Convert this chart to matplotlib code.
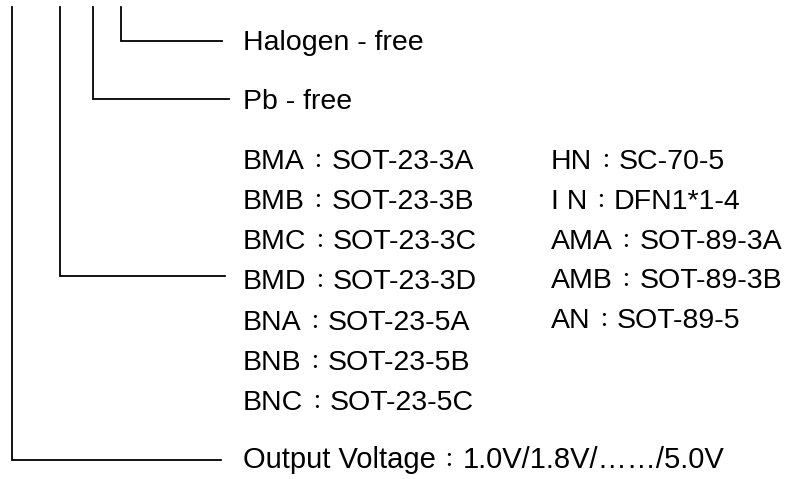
import matplotlib
matplotlib.use("Agg")
import matplotlib.pyplot as plt

plt.rcParams["font.family"] = ["Liberation Sans", "Noto Sans CJK TC", "DejaVu Sans"]

# ordering-code tree: each branch drops from the top and turns right to its text
branch_x = [121, 93, 60, 12]
branch_y = [41, 99, 276, 460]
branch_end = [222, 229, 225, 221]

top_labels = ["Halogen - free", "Pb - free"]
top_y = [50, 109]

package_left = ["BMA：SOT-23-3A", "BMB：SOT-23-3B", "BMC：SOT-23-3C", "BMD：SOT-23-3D",
                "BNA：SOT-23-5A", "BNB：SOT-23-5B", "BNC：SOT-23-5C"]
package_left_y = [169, 209, 249, 289, 330, 370, 410]
package_right = ["HN：SC-70-5", "I N：DFN1*1-4", "AMA：SOT-89-3A", "AMB：SOT-89-3B", "AN：SOT-89-5"]
package_right_y = [169, 209, 249, 288, 328]

voltage_label = "Output Voltage：1.0V/1.8V/……/5.0V"
voltage_y = 468

fs = 20.5

fig = plt.figure(figsize=(7.94, 4.79), dpi=100)
ax = fig.add_axes([0, 0, 1, 1])
ax.set_xlim(0, 794)
ax.set_ylim(479, 0)
ax.axis("off")


def colon_label(x, y, label, size=fs):
    # the full-width colon is set smaller, like in the original document
    head, tail = label.split("：")
    t1 = ax.text(x, y, head, fontsize=size, va="baseline", ha="left")
    t2 = ax.annotate("：", xy=(1, y), xycoords=(t1, "data"), xytext=(2, 0.5),
                     textcoords="offset points", fontsize=15, va="baseline", ha="left",
                     family="Noto Sans CJK TC")
    ax.annotate(tail, xy=(1, y), xycoords=(t2, "data"), xytext=(2, 0),
                textcoords="offset points", fontsize=size, va="baseline", ha="left")


for x, y, x_end in zip(branch_x, branch_y, branch_end):
    ax.plot([x, x, x_end], [7, y, y], color="black", lw=1.3, solid_joinstyle="miter")

for label, y in zip(top_labels, top_y):
    ax.text(243, y, label, fontsize=fs, va="baseline", ha="left")
for label, y in zip(package_left, package_left_y):
    colon_label(243, y, label)
for label, y in zip(package_right, package_right_y):
    colon_label(551, y, label)
colon_label(243, voltage_y, voltage_label, size=21)

fig.savefig("out.png", dpi=100)
